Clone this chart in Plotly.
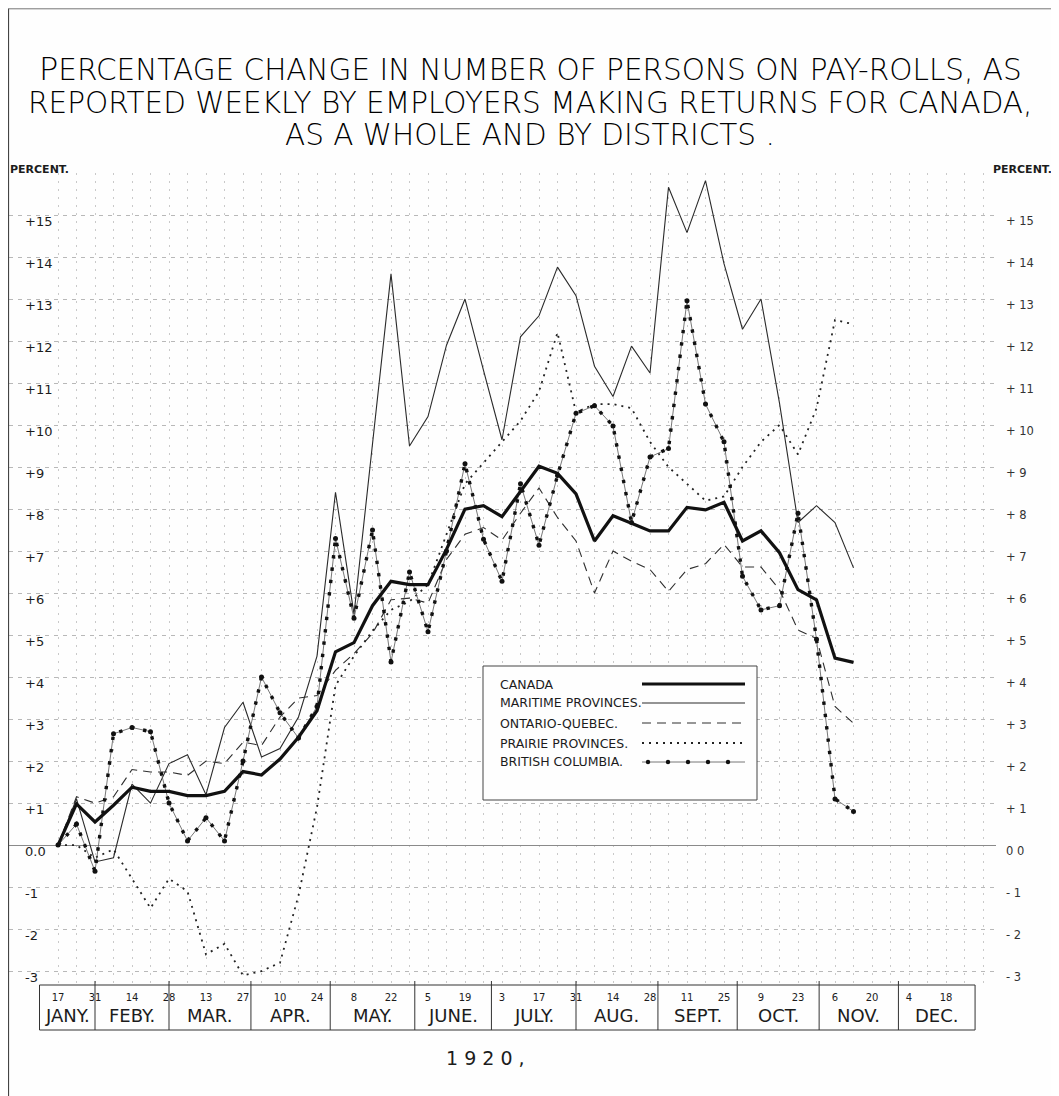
import plotly.graph_objects as go
import pandas as pd

# ---------------- data ----------------
START = "1920-01-17"
weeks = pd.date_range(START, periods=44, freq="7D")

canada = [0, 0.98, 0.55, 0.95, 1.38, 1.28, 1.28, 1.18, 1.18, 1.28,
          1.75, 1.67, 2.05, 2.57, 3.2, 4.6, 4.82, 5.7, 6.28, 6.2,
          6.2, 7.04, 8.0, 8.08, 7.82, 8.42, 9.02, 8.85, 8.36, 7.24,
          7.84, 7.66, 7.48, 7.48, 8.04, 7.98, 8.16, 7.24, 7.48, 6.96,
          6.08, 5.84, 4.45, 4.35]
maritime = [0, 1.1, -0.4, -0.3, 1.45, 1.0, 1.94, 2.15, 1.2, 2.8,
            3.4, 2.1, 2.3, 3.05, 4.5, 8.4, 5.5, 9.5, 13.6, 9.5,
            10.2, 11.9, 13.0, 11.3, 9.65, 12.1, 12.6, 13.76, 13.08, 11.4,
            10.68, 11.88, 11.24, 15.66, 14.58, 15.82, 13.84, 12.28, 13.0, 10.52,
            7.68, 8.08, 7.68, 6.6]
ontario_quebec = [0, 1.15, 1.0, 1.15, 1.8, 1.74, 1.74, 1.66, 2.0, 1.94,
                  2.45, 2.37, 3.05, 3.5, 3.56, 4.16, 4.56, 5.04, 5.84, 5.88,
                  5.76, 6.8, 7.4, 7.56, 7.26, 7.9, 8.5, 7.8, 7.24, 6.0,
                  7.0, 6.76, 6.56, 6.04, 6.56, 6.7, 7.16, 6.62, 6.62, 6.08,
                  5.12, 4.92, 3.3, 2.9]
prairie = [0, 0.0, -0.3, -0.1, -0.8, -1.5, -0.8, -1.1, -2.6, -2.35,
           -3.1, -3.0, -2.8, -1.2, 0.9, 3.8, 4.5, 5.1, 5.6, 5.8,
           6.2, 7.4, 8.6, 9.1, 9.6, 10.1, 10.8, 12.2, 10.3, 10.5,
           10.5, 10.4, 9.6, 9.0, 8.6, 8.2, 8.3, 9.0, 9.6, 10.0,
           9.3, 10.4, 12.5, 12.4]
british_columbia = [0, 0.5, -0.62, 2.65, 2.8, 2.7, 1.0, 0.1, 0.65, 0.1,
                    2.0, 4.0, 3.15, 2.55, 3.3, 7.3, 5.4, 7.5, 4.36, 6.5,
                    5.08, 7.0, 9.08, 7.28, 6.28, 8.6, 7.14, 8.8, 10.28, 10.46,
                    9.98, 7.68, 9.24, 9.44, 12.96, 10.5, 9.6, 6.4, 5.6, 5.7,
                    7.9, 4.9, 1.1, 0.8]

tick_dates = pd.date_range("1920-01-17", "1920-12-18", freq="14D")
tick_labels = ["17", "31", "14", "28", "13", "27", "10", "24", "8", "22", "5", "19",
               "3", "17", "31", "14", "28", "11", "25", "9", "23", "6", "20", "4", "18"]
months = ["JANY.", "FEBY.", "MAR.", "APR.", "MAY.", "JUNE.", "JULY.",
          "AUG.", "SEPT.", "OCT.", "NOV.", "DEC."]
month_edges = ["1920-01-10", "1920-01-31", "1920-02-28", "1920-03-30", "1920-04-29",
               "1920-05-31", "1920-06-29", "1920-07-31", "1920-08-31", "1920-09-30",
               "1920-10-31", "1920-11-30", "1920-12-29"]
y_ticks = list(range(-3, 16))
left_labels = ["0.0" if v == 0 else (f"+{v}" if v > 0 else f"-{abs(v)}") for v in y_ticks]
right_labels = ["0 0" if v == 0 else (f"+ {v}" if v > 0 else f"- {abs(v)}") for v in y_ticks]

series_names = ["CANADA", "MARITIME PROVINCES.", "ONTARIO-QUEBEC.",
                "PRAIRIE PROVINCES.", "BRITISH COLUMBIA."]

# ---------------- geometry (figure pixels) ----------------
W, H = 1051, 1088
L, R, T, B = 1, 988, 165, 977
Y_LO, Y_HI = -3.33, 16

def xp(px):
    return (px - L) / (R - L)

def yp(py):
    return (B - py) / (B - T)

px_per_day = 18.5 / 7
start = pd.Timestamp(START)
x_lo = start - pd.Timedelta(days=(50 - L) / px_per_day)
x_hi = start + pd.Timedelta(days=(R - 50) / px_per_day)

INK = "#1c1c1c"
FONT = "DejaVu Sans"
GRID = "#c9c9c9"

fig = go.Figure()

fig.add_trace(go.Scatter(x=weeks, y=maritime, mode="lines",
                         line=dict(color="#2a2a2a", width=1.1), hoverinfo="skip"))
fig.add_trace(go.Scatter(x=weeks, y=ontario_quebec, mode="lines",
                         line=dict(color="#2e2e2e", width=1.1, dash="9px,6px"), hoverinfo="skip"))
fig.add_trace(go.Scatter(x=weeks, y=prairie, mode="lines",
                         line=dict(color="#222", width=1.8, dash="2px,5px"), hoverinfo="skip"))
fig.add_trace(go.Scatter(x=weeks, y=british_columbia, mode="lines+markers",
                         line=dict(color="#555", width=0.8),
                         marker=dict(size=5, color="#111"), hoverinfo="skip"))
fig.add_trace(go.Scatter(x=weeks, y=british_columbia, mode="lines",
                         line=dict(color="#111", width=3.4, dash="3.4px,9px"), hoverinfo="skip"))
fig.add_trace(go.Scatter(x=weeks, y=canada, mode="lines",
                         line=dict(color="#111", width=3.2), hoverinfo="skip"))
# carrier for the right-hand axis
fig.add_trace(go.Scatter(x=weeks, y=canada, yaxis="y2", mode="lines",
                         line=dict(width=0, color="rgba(0,0,0,0)"), hoverinfo="skip"))

shapes = []
annotations = []

# page border
shapes.append(dict(type="line", xref="paper", yref="paper", x0=xp(0.5), x1=xp(0.5),
                   y0=yp(H), y1=yp(0.5), line=dict(color="#444", width=1.2)))
shapes.append(dict(type="line", xref="paper", yref="paper", x0=xp(0.5), x1=xp(W),
                   y0=yp(0.8), y1=yp(0.8), line=dict(color="#777", width=1)))
shapes.append(dict(type="line", xref="paper", yref="paper", x0=xp(1047), x1=xp(1047),
                   y0=yp(H), y1=yp(0.8), line=dict(color="#c4c4c4", width=1)))

# month box
y_box_top, y_box_bot = yp(B), yp(1022)
shapes.append(dict(type="rect", xref="x", yref="paper", x0=month_edges[0], x1=month_edges[-1],
                   y0=y_box_bot, y1=y_box_top, line=dict(color="#333", width=1)))
for e in month_edges[1:-1]:
    shapes.append(dict(type="line", xref="x", yref="paper", x0=e, x1=e,
                       y0=y_box_bot, y1=yp(B - 4), line=dict(color="#333", width=1)))
edges_ts = pd.to_datetime(month_edges)
for i, m in enumerate(months):
    mid = edges_ts[i] + (edges_ts[i + 1] - edges_ts[i]) / 2
    annotations.append(dict(x=mid, y=yp(1008), xref="x", yref="paper", text=m,
                            showarrow=False, xanchor="center", yanchor="middle",
                            font=dict(family=FONT, size=18, color=INK)))

annotations.append(dict(x=xp(477), y=yp(1050), xref="paper", yref="paper",
                        text="1 9 2 0 ,", showarrow=False, xanchor="center", yanchor="middle",
                        font=dict(family=FONT, size=19, color=INK)))

# title
title_lines = [
    ("<span style='font-size:32px'>P</span>ERCENTAGE CHANGE IN NUMBER OF PERSONS ON PAY-ROLLS, AS", 61),
    ("REPORTED WEEKLY BY EMPLOYERS MAKING RETURNS FOR CANADA,", 95),
    ("AS A WHOLE AND BY DISTRICTS .", 127),
]
for txt, py in title_lines:
    annotations.append(dict(x=xp(522), y=yp(py), xref="paper", yref="paper", text=txt,
                            showarrow=False, xanchor="center", yanchor="middle",
                            font=dict(family=FONT, size=29.5, color="#000", weight=300)))

annotations.append(dict(x=xp(0), y=yp(162), xref="paper", yref="paper", text="PERCENT.",
                        showarrow=False, xanchor="left", yanchor="middle",
                        font=dict(family=FONT, size=11, color=INK, weight="bold")))
annotations.append(dict(x=xp(1046), y=yp(162), xref="paper", yref="paper", text="PERCENT.",
                        showarrow=False, xanchor="right", yanchor="middle",
                        font=dict(family=FONT, size=11, color=INK, weight="bold")))

# legend box
lx0, lx1, ly0, ly1 = 475, 749, 658, 792
shapes.append(dict(type="rect", xref="paper", yref="paper", x0=xp(lx0), x1=xp(lx1),
                   y0=yp(ly1), y1=yp(ly0), line=dict(color="#444", width=1),
                   fillcolor="#fefefe", layer="above"))
row_y = [676, 695, 715, 735, 754]
sx0, sx1 = 634, 737
styles = [
    dict(color="#111", width=3),
    dict(color="#2a2a2a", width=1.1),
    dict(color="#2e2e2e", width=1.1, dash="9px,6px"),
    dict(color="#222", width=1.8, dash="2px,5px"),
    dict(color="#555", width=0.8),
]
for name, py, st in zip(series_names, row_y, styles):
    annotations.append(dict(x=xp(490), y=yp(py), xref="paper", yref="paper", text=name,
                            showarrow=False, xanchor="left", yanchor="middle",
                            font=dict(family=FONT, size=12.5, color=INK)))
    shapes.append(dict(type="line", xref="paper", yref="paper", x0=xp(sx0), x1=xp(sx1),
                       y0=yp(py), y1=yp(py), line=st, layer="above"))
for dx in range(640, 738, 20):
    shapes.append(dict(type="circle", xref="paper", yref="paper",
                       x0=xp(dx - 2.2), x1=xp(dx + 2.2), y0=yp(row_y[4] + 2.2), y1=yp(row_y[4] - 2.2),
                       fillcolor="#111", line=dict(width=0), layer="above"))

fig.update_layout(
    width=W, height=H,
    margin=dict(l=L, r=W - R, t=T, b=H - B),
    paper_bgcolor="#fefefe", plot_bgcolor="#fefefe",
    showlegend=False,
    shapes=shapes, annotations=annotations,
    xaxis=dict(
        type="date", range=[x_lo, x_hi],
        tickvals=tick_dates, ticktext=tick_labels, ticks="", ticklabelstandoff=5,
        tickfont=dict(family=FONT, size=10, color=INK),
        showgrid=True, gridcolor=GRID, griddash="2px,6px", gridwidth=1,
        minor=dict(tick0=START, dtick=7 * 86400000, showgrid=True, gridcolor=GRID,
                   griddash="2px,6px", gridwidth=1),
        showline=False, zeroline=False,
    ),
    yaxis=dict(
        range=[Y_LO, Y_HI], tickvals=y_ticks, ticktext=left_labels,
        ticklabelposition="inside", ticks="", ticklabelstandoff=13, ticklabelshift=6,
        tickfont=dict(family=FONT, size=13, color=INK),
        showgrid=True, gridcolor="#b8b8b8", griddash="4px,5px", gridwidth=1,
        minor=dict(tick0=0, dtick=1, showgrid=True, gridcolor="#b8b8b8",
                   griddash="4px,5px", gridwidth=1),
        zeroline=True, zerolinecolor="#8a8a8a", zerolinewidth=1,
        showline=False,
    ),
    yaxis2=dict(
        range=[Y_LO, Y_HI], overlaying="y", side="right",
        tickvals=y_ticks, ticktext=right_labels,
        ticklabelposition="outside", ticks="", ticklabelstandoff=9, ticklabelshift=6,
        tickfont=dict(family=FONT, size=11.5, color="#333"),
        showgrid=False, zeroline=False, showline=False,
    ),
)

fig.write_html("out.html")
